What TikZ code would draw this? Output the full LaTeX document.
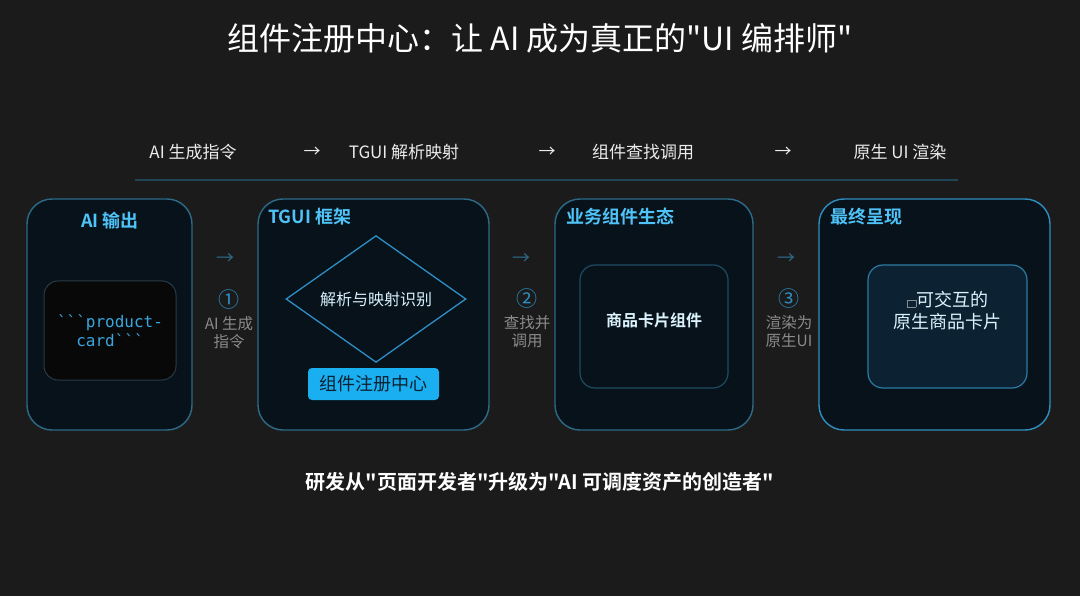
\documentclass[tikz,border=0pt]{standalone}
\usepackage{fontspec}
\setmainfont{Noto Sans CJK SC}[BoldFont={Noto Sans CJK SC Bold},Ligatures=TeXOff]
\setmonofont{DejaVu Sans Mono}
\usetikzlibrary{positioning,shapes.geometric}

\definecolor{bgcol}{HTML}{1B1B1B}
\definecolor{panelfill}{HTML}{07121B}
\definecolor{panelline}{HTML}{2D6A87}
\definecolor{panelbright}{HTML}{2F8EC0}
\definecolor{headcol}{HTML}{4FC3F7}
\definecolor{cardline}{HTML}{1D4C63}
\definecolor{uicardline}{HTML}{2D7AA3}
\definecolor{uicardfill}{HTML}{0C2232}
\definecolor{codeline}{HTML}{2A3A45}
\definecolor{codefill}{HTML}{080808}
\definecolor{rulecol}{HTML}{1E4654}
\definecolor{stepcol}{HTML}{2D8FC4}
\definecolor{notecol}{HTML}{8A8A8A}
\definecolor{codecol}{HTML}{38A7E0}
\definecolor{regcol}{HTML}{1AAFF0}
\definecolor{regtext}{HTML}{0B2233}

\newcommand{\fs}[1]{\fontsize{#1pt}{\dimexpr #1pt*6/5\relax}\selectfont}

\begin{document}
\begin{tikzpicture}[x=1pt,y=-1pt,
    panel/.style={draw=panelline, line width=1.4pt, fill=panelfill, rounded corners=25pt},
    panelhead/.style={text=headcol, font=\fs{18}\bfseries, inner sep=0pt},
    card/.style={draw=cardline, line width=1.2pt, fill=panelfill, rounded corners=15pt},
    cardtext/.style={text=white!80!headcol, font=\fs{16}, align=center},
    flow/.style={text=white!92!black, font=\fs{17}, inner sep=0pt},
    steparrow/.style={text=panelline, font=\fs{18}, inner sep=0pt},
    stepnum/.style={text=stepcol, font=\fs{21}, inner sep=0pt},
    stepnote/.style={text=notecol, font=\fs{15.5}, align=center, inner sep=0pt}]
  \useasboundingbox (0,0) rectangle (1080,596);
  \fill[bgcol] (0,0) rectangle (1080,596);

  % title
  \node[text=white, font=\fs{32}] (title) at (540,38) {组件注册中心：让 AI 成为真正的"UI 编排师"};

  % flow row
  \node[flow] (f1) at (193,152) {AI 生成指令};
  \node[flow] (a1) at (312,152) {→};
  \node[flow] (f2) at (404,152) {TGUI 解析映射};
  \node[flow] (a2) at (547,152) {→};
  \node[flow] (f3) at (643,152) {组件查找调用};
  \node[flow] (a3) at (783,152) {→};
  \node[flow] (f4) at (900,152) {原生 UI 渲染};
  \coordinate (rule l) at (135,180);
  \coordinate (rule r) at (958,180);
  \draw[rulecol, line width=1.2pt] (rule l) -- (rule r);

  % panel 1
  \node[panel, minimum width=165pt, minimum height=231pt] (p1) at (109.5,314.5) {};
  \node[panelhead] (p1 head) at (110,221) {AI 输出};
  \node[draw=codeline, fill=codefill, line width=1pt, rounded corners=14pt,
        minimum width=132pt, minimum height=99pt] (code) at (110,330.5) {};
  \node[text=codecol, font=\ttfamily\fs{16}, align=center, inner sep=0pt] (code text) at (code)
    {```product-\\card```};

  % panel 2
  \node[panel, minimum width=231pt, minimum height=231pt] (p2) at (373.5,314.5) {};
  \node[panelhead, anchor=west] (p2 head) at (268,217) {TGUI 框架};
  \node[diamond, draw=stepcol, line width=1.3pt, minimum width=180pt, minimum height=113pt,
        inner sep=0pt, text=white!78!headcol, font=\fs{16}] (parse) at (376,299) {解析与映射识别};
  \node[fill=regcol, rounded corners=4pt, minimum width=131pt, minimum height=32pt,
        text=regtext, font=\fs{18}] (registry) at (373.5,384) {组件注册中心};

  % panel 3
  \node[panel, minimum width=198pt, minimum height=231pt] (p3) at (654,314.5) {};
  \node[panelhead, anchor=west] (p3 head) at (566,217) {业务组件生态};
  \node[card, minimum width=148pt, minimum height=123pt] (biz card) at (654,326.5) {};
  \node[cardtext, font=\fs{16}\bfseries] at ([yshift=6pt]biz card.center) {商品卡片组件};

  % panel 4
  \node[panel, draw=panelbright, minimum width=231pt, minimum height=231pt] (p4) at (934.5,314.5) {};
  \node[panelhead, anchor=west] (p4 head) at (830,217) {最终呈现};
  \node[card, draw=uicardline, fill=uicardfill, minimum width=159pt, minimum height=123pt] (ui card) at (947.5,326.5) {};
  \node[cardtext, font=\fs{18}] at ([yshift=16pt]ui card.center)
    {{\color{notecol}\fboxsep=0pt\fboxrule=0.5pt\fbox{\fs{8}\phantom{口}}}可交互的\\原生商品卡片};

  % steps between panels
  \node[steparrow] (s1 arrow) at (225,259) {→};
  \node[stepnum] (s1 num) at (229,300) {①};
  \node[stepnote, below=6pt of s1 num] (s1 note) {AI 生成\\指令};
  \node[steparrow] (s2 arrow) at (521,259) {→};
  \node[stepnum] (s2 num) at (527,299) {②};
  \node[stepnote, below=6pt of s2 num] (s2 note) {查找并\\调用};
  \node[steparrow] (s3 arrow) at (786,259) {→};
  \node[stepnum] (s3 num) at (789,299) {③};
  \node[stepnote, below=6pt of s3 num] (s3 note) {渲染为\\原生UI};

  % closing line
  \node[text=white, font=\fs{20}\bfseries] (summary) at (540,482) {研发从"页面开发者"升级为"AI 可调度资产的创造者"};
\end{tikzpicture}
\end{document}
